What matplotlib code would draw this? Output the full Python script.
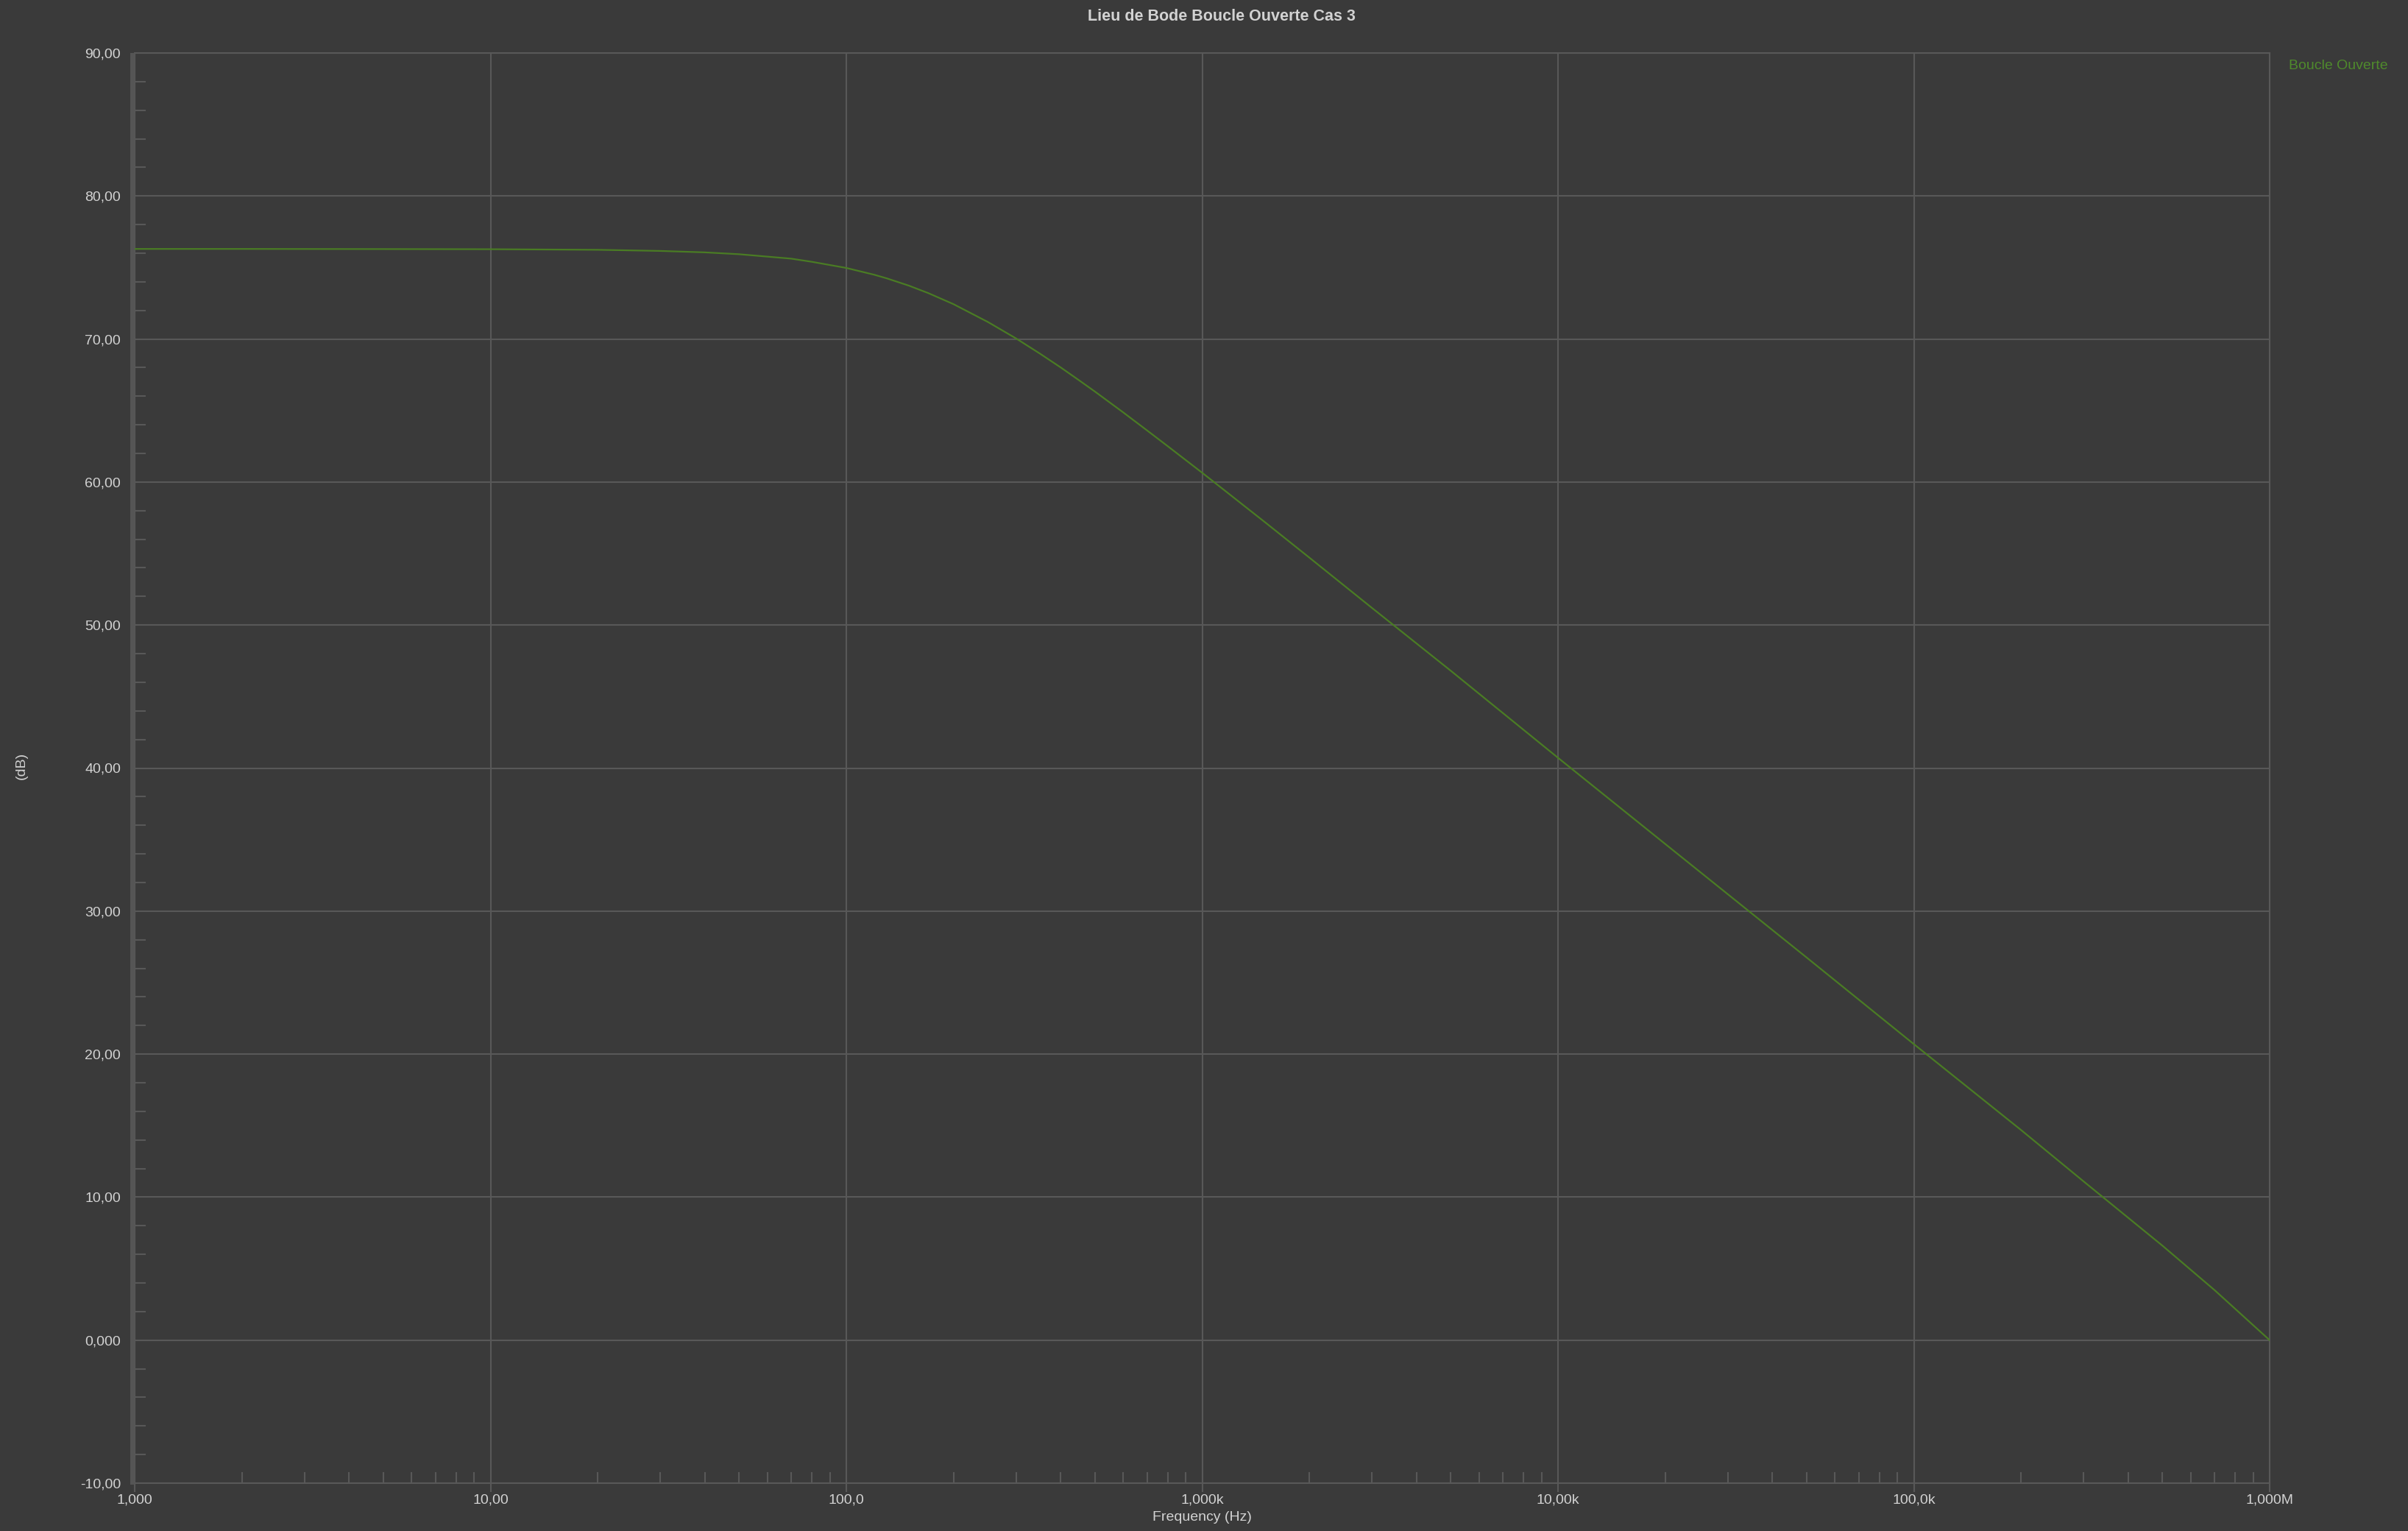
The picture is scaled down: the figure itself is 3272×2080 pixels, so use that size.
import matplotlib
matplotlib.use("Agg")
import matplotlib.pyplot as plt
from matplotlib.ticker import FixedLocator, NullFormatter
from matplotlib.patches import Rectangle

# ---------------- data ----------------
freq_hz = [1, 2, 5, 10, 20, 30, 40, 50, 70, 80, 100, 120, 130, 150, 170, 200,
           250, 300, 350, 400, 450, 500, 600, 700, 800, 1000, 1500, 2000, 3000,
           5000, 10000, 20000, 50000, 100000, 200000, 300000, 500000, 700000,
           1000000]
gain_db = [76.30, 76.30, 76.29, 76.28, 76.24, 76.16, 76.06, 75.93, 75.62, 75.40,
           74.97, 74.49, 74.24, 73.73, 73.21, 72.44, 71.19, 70.04, 68.98, 68.02,
           67.13, 66.32, 64.87, 63.61, 62.51, 60.65, 57.20, 54.72, 51.20, 46.80,
           40.72, 34.70, 26.75, 20.70, 14.70, 11.10, 6.60, 3.50, 0.00]

x_ticks = [1, 10, 100, 1e3, 1e4, 1e5, 1e6]
x_tick_labels = ["1,000", "10,00", "100,0", "1,000k", "10,00k", "100,0k", "1,000M"]
y_ticks = [-10, 0, 10, 20, 30, 40, 50, 60, 70, 80, 90]
y_tick_labels = ["-10,00", "0,000", "10,00", "20,00", "30,00", "40,00",
                 "50,00", "60,00", "70,00", "80,00", "90,00"]
title_text = "Lieu de Bode Boucle Ouverte Cas 3"
x_label = "Frequency (Hz)"
y_label = "(dB)"
series_name = "Boucle Ouverte"

# ---------------- style ----------------
BG = "#3a3a3a"
GRID = "#585858"
SPINE = "#555555"
TXT = "#d2d2d2"
LINE = "#4a7c24"
LEG = "#4f8a2c"
FONT = "Liberation Sans"
plt.rcParams["font.family"] = [FONT, "DejaVu Sans"]

W, H = 3272, 2080
fig = plt.figure(figsize=(W / 100, H / 100), dpi=100, facecolor=BG)

L, R, T, B = 183, 3084, 72, 2015
ax = fig.add_axes([L / W, 1 - B / H, (R - L) / W, (B - T) / H])
ax.set_facecolor(BG)
ax.set_xscale("log")
ax.set_xlim(x_ticks[0], x_ticks[-1])
ax.set_ylim(y_ticks[0], y_ticks[-1])

ax.plot(freq_hz, gain_db, color=LINE, lw=1.6, zorder=3)

ax.set_xticks(x_ticks)
ax.set_xticklabels(x_tick_labels)
ax.xaxis.set_minor_locator(FixedLocator([m * 10 ** d for d in range(6) for m in range(2, 10)]))
ax.xaxis.set_minor_formatter(NullFormatter())
ax.set_yticks(y_ticks)
ax.set_yticklabels(y_tick_labels)
ax.yaxis.set_minor_locator(FixedLocator([v for v in range(-10, 90, 2) if v % 10]))
ax.yaxis.set_minor_formatter(NullFormatter())

ax.grid(True, which="major", color=GRID, lw=1.5)
ax.set_axisbelow(True)

ax.tick_params(axis="x", which="major", direction="out", length=8.6, width=1.5,
               color=GRID, labelsize=14, labelcolor=TXT, pad=2)
ax.tick_params(axis="x", which="minor", direction="in", length=10.8, width=1.5, color=GRID)
ax.tick_params(axis="y", which="major", length=0, pad=13.5, labelsize=14, labelcolor=TXT)
ax.tick_params(axis="y", which="minor", direction="in", length=10.8, width=1.5, color=GRID)

for s in ("top", "right", "bottom"):
    ax.spines[s].set_color(GRID)
    ax.spines[s].set_linewidth(1.5)
ax.spines["left"].set_visible(False)

# thick left axis bar
fig.add_artist(Rectangle(((L - 6) / W, 1 - (B + 2) / H), 6 / W, (B + 2 - T) / H,
                         transform=fig.transFigure, facecolor=SPINE, edgecolor="none"))

fig.text(1660 / W, 1 - 22 / H, title_text, color=TXT, fontsize=15.5, fontweight="bold",
         ha="center", va="center")
fig.text((L + R) / 2 / W, 1 - 2062 / H, x_label, color=TXT, fontsize=14,
         ha="center", va="center")
fig.text(29 / W, 1 - 1040 / H, y_label, color=TXT, fontsize=14, rotation=90,
         ha="center", va="center")
fig.text(3110 / W, 1 - 89 / H, series_name, color=LEG, fontsize=14, ha="left", va="center")

fig.savefig("out.png", dpi=100, facecolor=BG)
